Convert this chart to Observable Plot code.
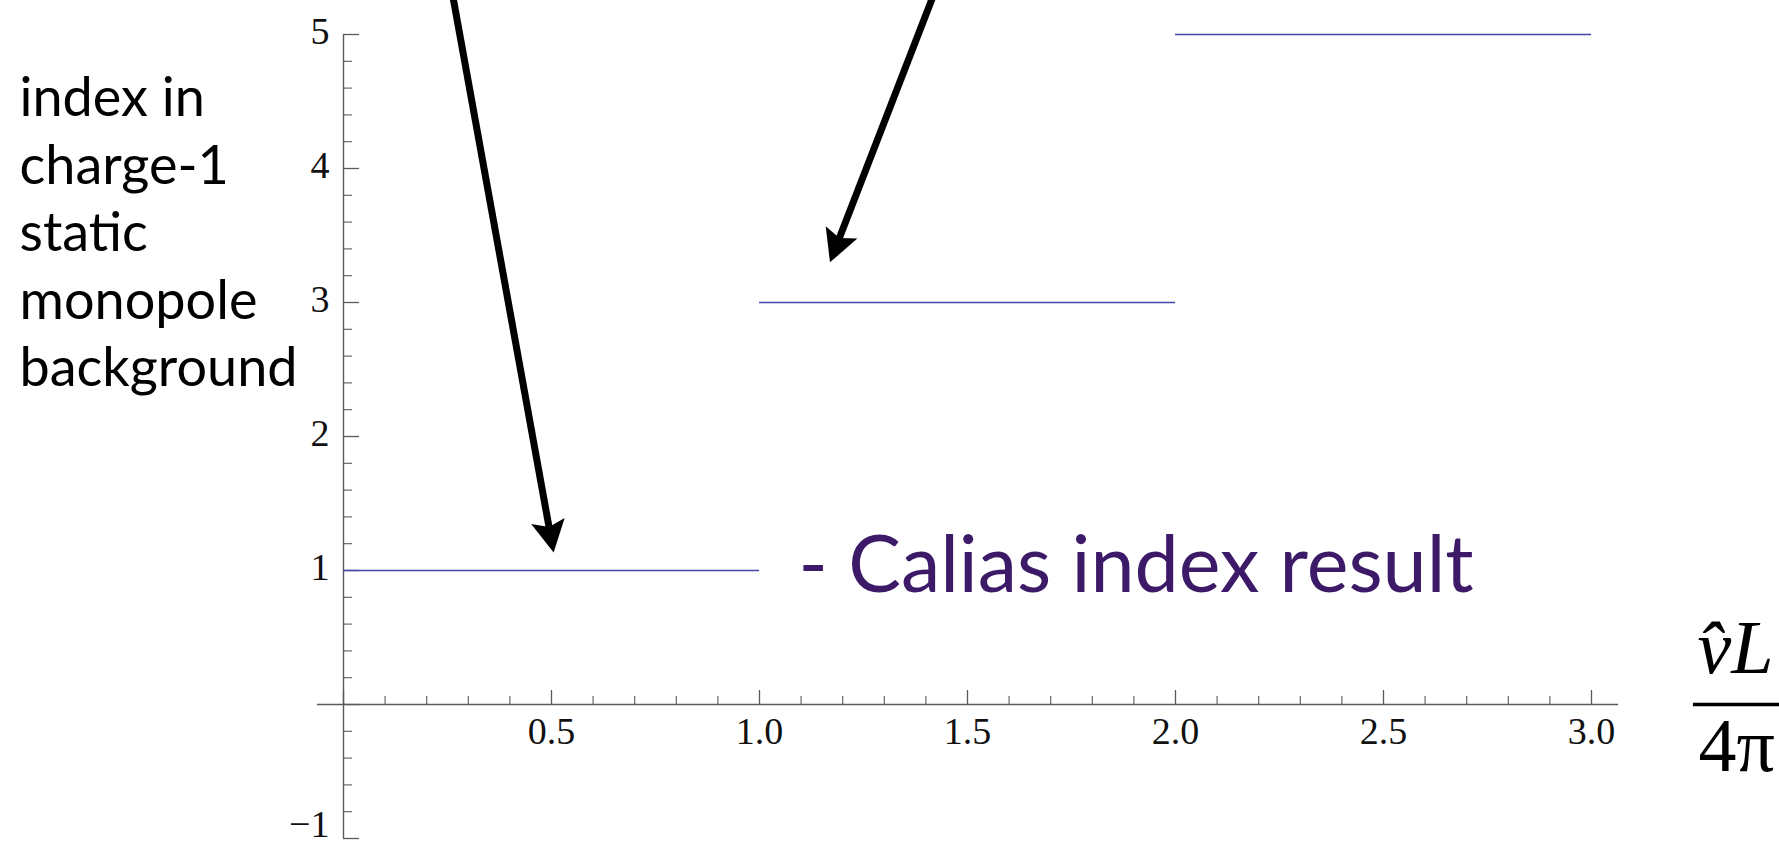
<!DOCTYPE html>
<html>
<head>
<meta charset="utf-8">
<script src="https://cdn.jsdelivr.net/npm/d3@7"></script>
<script src="https://cdn.jsdelivr.net/npm/@observablehq/plot@0.6"></script>
<style>
  html, body { margin: 0; padding: 0; background: #fff; overflow: hidden; }
  #chart { width: 1779px; height: 846px; }
</style>
</head>
<body>
<div id="chart"></div>
<script>
// ---- data ----
const stepStart = [0, 1, 2];
const stepEnd = [1, 2, 3];
const stepIndex = [1, 3, 5];

const xMajorTicks = [0, 0.5, 1.0, 1.5, 2.0, 2.5, 3.0];
const xTickLabels = ["", "0.5", "1.0", "1.5", "2.0", "2.5", "3.0"];
const xMinorTicks = [0.1, 0.2, 0.3, 0.4, 0.6, 0.7, 0.8, 0.9, 1.1, 1.2, 1.3, 1.4, 1.6, 1.7, 1.8, 1.9, 2.1, 2.2, 2.3, 2.4, 2.6, 2.7, 2.8, 2.9];
const yMajorTicks = [-1, 0, 1, 2, 3, 4, 5];
const yTickLabels = ["\u22121", "", "1", "2", "3", "4", "5"];
const yMinorTicks = [-0.8, -0.6, -0.4, -0.2, 0.2, 0.4, 0.6, 0.8, 1.2, 1.4, 1.6, 1.8, 2.2, 2.4, 2.6, 2.8, 3.2, 3.4, 3.6, 3.8, 4.2, 4.4, 4.6, 4.8];

// arrows (annotation): start above the frame, end at the arrowhead base
const arrowFromX = [0.262, 1.419];
const arrowFromY = [5.3, 5.3];
const arrowToX = [0.494, 1.192];
const arrowToY = [1.325, 3.481];

const yTitleLines = ["index in", "charge-1", "static", "monopole", "background"];
const noteText = "- Calias index result";
const xTitleNumerator = "v\u0302L";
const xTitleDenominator = "4\u03C0";

// ---- derived tables ----
const steps = stepStart.map((s, i) => ({start: s, end: stepEnd[i], index: stepIndex[i]}));
const xLabels = xMajorTicks.map((v, i) => ({v, label: xTickLabels[i]})).filter(d => d.label);
const yLabels = yMajorTicks.map((v, i) => ({v, label: yTickLabels[i]})).filter(d => d.label);
const yLabelsUpper = yLabels.filter(d => d.v > -1);
const yLabelsBottom = yLabels.filter(d => d.v === -1);
const arrows = arrowFromX.map((x, i) => ({x1: x, y1: arrowFromY[i], x2: arrowToX[i], y2: arrowToY[i]}));

// ---- layout ----
const W = 1779, H = 846, ML = 343, MR = 188, MT = 34, MB = 8;
const xDomain = [0, 3], yDomain = [-1, 5];
const pxPerX = (W - ML - MR) / (xDomain[1] - xDomain[0]);
const pxPerY = (H - MT - MB) / (yDomain[1] - yDomain[0]);

const axisColor = "#5a5a5a";
const serif = "'Liberation Serif', 'DejaVu Serif', serif";
const humanist = "Lato, 'Open Sans', sans-serif";

function headMarker(color) {
  const ns = "http://www.w3.org/2000/svg";
  const m = document.createElementNS(ns, "marker");
  m.setAttribute("viewBox", "-10 -20 40 40");
  m.setAttribute("markerWidth", "40");
  m.setAttribute("markerHeight", "40");
  m.setAttribute("markerUnits", "userSpaceOnUse");
  m.setAttribute("orient", "auto");
  m.setAttribute("refX", "0");
  m.setAttribute("refY", "0");
  m.setAttribute("overflow", "visible");
  const p = document.createElementNS(ns, "path");
  p.setAttribute("d", "M26,0L-6,-17L0,0L-6,17Z");
  p.setAttribute("fill", color);
  p.setAttribute("stroke", "none");
  m.appendChild(p);
  return m;
}

function build(marker) {
  return Plot.plot({
    width: W,
    height: H,
    marginLeft: ML,
    marginRight: MR,
    marginTop: MT,
    marginBottom: MB,
    x: {domain: xDomain, axis: null},
    y: {domain: yDomain, axis: null},
    style: {background: "#fff", overflow: "hidden"},
    marks: [
      // axes crossing at origin
      Plot.ruleY([0], {x1: -0.0625, x2: 3.065, stroke: axisColor, strokeWidth: 1.4}),
      Plot.ruleX([0], {y1: yDomain[0], y2: yDomain[1], stroke: axisColor, strokeWidth: 1.4}),
      Plot.ruleX(xMajorTicks, {x: d => d, y1: 0, y2: 14 / pxPerY, stroke: axisColor, strokeWidth: 1.3}),
      Plot.ruleX(xMinorTicks, {x: d => d, y1: 0, y2: 8 / pxPerY, stroke: axisColor, strokeWidth: 1.1}),
      Plot.ruleY(yMajorTicks, {y: d => d, x1: 0, x2: 16 / pxPerX, stroke: axisColor, strokeWidth: 1.3}),
      Plot.ruleY(yMinorTicks, {y: d => d, x1: 0, x2: 9 / pxPerX, stroke: axisColor, strokeWidth: 1.1}),
      Plot.text(xLabels, {x: "v", y: 0, text: "label", dy: 27, lineAnchor: "middle",
        fontFamily: serif, fontSize: 38, fill: "#111"}),
      Plot.text(yLabelsUpper, {x: 0, y: "v", text: "label", textAnchor: "end", dx: -14, dy: -3,
        lineAnchor: "middle", fontFamily: serif, fontSize: 38, fill: "#111"}),
      Plot.text(yLabelsBottom, {x: 0, y: "v", text: "label", textAnchor: "end", dx: -14, dy: -14,
        lineAnchor: "middle", fontFamily: serif, fontSize: 38, fill: "#111"}),
      // step function
      Plot.ruleY(steps, {x1: "start", x2: "end", y: "index", stroke: "#4646a8", strokeWidth: 1.6}),
      // annotation arrows
      Plot.link(arrows, {x1: "x1", y1: "y1", x2: "x2", y2: "y2", stroke: "#000", strokeWidth: 7,
        markerEnd: marker}),
      // annotation text
      Plot.text([noteText], {x: 1.094, y: 0.836, text: d => d, textAnchor: "start", lineAnchor: "bottom",
        fontFamily: humanist, fontSize: 79, fill: "#3c1a68"}),
      // y title in the left margin
      Plot.text([yTitleLines.join("\n")], {frameAnchor: "top-left", text: d => d, dx: -324, dy: 34,
        textAnchor: "start", lineAnchor: "top", lineHeight: 1.25, fontFamily: humanist, fontSize: 54, fill: "#000"}),
      // x title as a fraction on the right
      Plot.text([xTitleNumerator], {x: 3.255, y: 0, text: d => d, textAnchor: "start", lineAnchor: "bottom",
        dy: -32, fontFamily: serif, fontStyle: "italic", fontSize: 76, fill: "#000"}),
      Plot.ruleY([0], {x1: 3.245, x2: 3.6, stroke: "#000", strokeWidth: 3.5}),
      Plot.text([xTitleDenominator], {x: 3.257, y: 0, text: d => d, textAnchor: "start", lineAnchor: "bottom",
        dy: 66, fontFamily: serif, fontSize: 76, fill: "#000"})
    ]
  });
}

let chart;
try {
  chart = build(headMarker);
} catch (e) {
  chart = build("arrow");
}
document.getElementById("chart").appendChild(chart);
</script>
</body>
</html>
